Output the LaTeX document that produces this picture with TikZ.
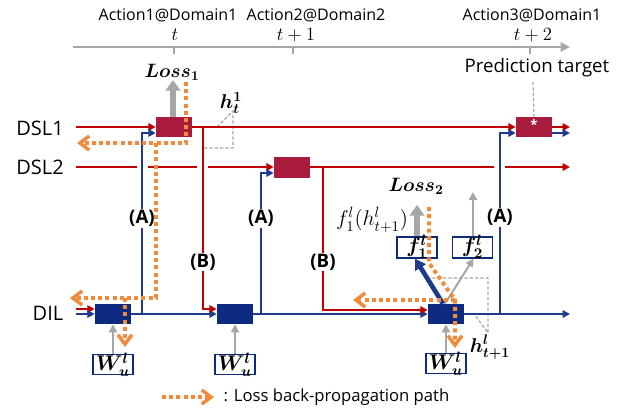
\RequirePackage{fix-cm}
\documentclass[tikz,border=0pt]{standalone}
\usepackage[no-math]{fontspec}
\setsansfont{Open Sans}
\usepackage{amsmath,bm}
\usetikzlibrary{arrows.meta,calc}
\definecolor{dred}{HTML}{C00000}
\definecolor{boxred}{HTML}{A91B3C}
\definecolor{dblue}{HTML}{1E3A8C}
\definecolor{boxblue}{HTML}{0B2A80}
\definecolor{lgray}{HTML}{A6A6A6}
\definecolor{orng}{HTML}{F08A3C}
\tikzset{
  redl/.style={draw=dred, line width=2.1pt},
  bluel/.style={draw=dblue, line width=2.1pt},
  tip/.style={-{Triangle[length=5.5pt,width=5.5pt]}},
  redbox/.style={fill=boxred, minimum width=27pt, minimum height=15pt, inner sep=0pt},
  bluebox/.style={fill=boxblue, minimum width=27pt, minimum height=15pt, inner sep=0pt},
  wbox/.style={draw=boxblue, line width=0.8pt, fill=white, minimum width=30pt, minimum height=15.5pt, inner sep=0pt},
  bp/.style={draw=orng, line width=3pt, dash pattern=on 3pt off 2.4pt, -{Straight Barb[length=7pt,width=10.5pt,line width=2.6pt]}},
  gdash/.style={draw=lgray, line width=0.9pt, dash pattern=on 2.5pt off 1.5pt},
  gthin/.style={draw=lgray, line width=1.5pt, -{Triangle[length=6pt,width=6pt]}},
  gthick/.style={draw=lgray, line width=4.5pt, -{Triangle[length=8pt,width=11pt]}},
  lab/.style={font=\fontsize{14}{16}\selectfont\sffamily\bfseries, fill=white, inner sep=1pt},
  side/.style={font=\fontsize{15}{17}\selectfont\sffamily},
  act/.style={font=\fontsize{12}{14}\selectfont\sffamily},
  mth/.style={font=\fontsize{14}{16}\selectfont, inner sep=0pt},
  bigm/.style={font=\fontsize{16}{18}\selectfont, inner sep=0pt},
}
\begin{document}
\begin{tikzpicture}[x=0.75pt,y=-0.75pt]
\useasboundingbox (0,0) rectangle (629,412);

% time axis
\coordinate (ax0) at (73,47);
\coordinate (ax1) at (570,47);
\draw[draw=lgray, line width=1.5pt, -{Triangle[length=7pt,width=7pt]}] (ax0) -- (ax1);
\foreach \xx/\nm in {174/ta,293/tb,530/tc}{
  \coordinate (\nm) at (\xx,47);
  \draw[draw=lgray, line width=1.2pt] (\nm) -- ++(0,7);
}
\node[mth] at (175,35) {$t$};
\node[mth] at (296,35) {$t+1$};
\node[mth] at (533,35) {$t+2$};
\node[act] (act1) at (168,15) {Action1@Domain1};
\node[act] (act2) at (316,15) {Action2@Domain2};
\node[act] (act3) at (532,15) {Action3@Domain1};
\node[font=\fontsize{14}{16}\selectfont\sffamily] (pt) at (537,68) {Prediction target};

% side labels
\node[side] (lds1) at (40,128) {DSL1};
\node[side] (lds2) at (40,167) {DSL2};
\node[side] (ldil) at (48,313) {DIL};

% boxes
\node[redbox] (r1) at (174,127) {};
\node[redbox, minimum height=15.75pt] (r2) at (292,167) {};
\node[redbox] (r4) at (534,127) {};
\node[text=white, font=\sffamily\bfseries, inner sep=0pt] at ($(r4.center)+(0,-3)$) {*};
\node[bluebox] (b1) at (113,314) {};
\node[bluebox] (b2) at (235,314) {};
\node[bluebox] (b3) at (446,314) {};
\node[wbox] (w1) at (113,364.5) {};
\node[wbox] (w2) at (235,364.5) {};
\node[wbox] (w3) at (446,363.5) {};
\node[bigm] at (w1.center) {$\bm{W_u^l}$};
\node[bigm] at (w2.center) {$\bm{W_u^l}$};
\node[bigm] at (w3.center) {$\bm{W_u^l}$};
\node[wbox, minimum height=15.75pt] (f1) at (417,247.5) {};
\node[wbox, minimum height=15.75pt] (f2) at (472.5,247.5) {};
\node[bigm] at ($(f1.center)+(0,-1)$) {$\bm{f_1^l}$};
\node[bigm] at ($(f2.center)+(0,-1)$) {$\bm{f_2^l}$};

% dashed gray annotations (under lines)
\coordinate (ha) at (217,127);
\coordinate (hb) at (233,111);
\coordinate (hc) at (233,148);
\coordinate (hd) at (203,148);
\draw[gdash] (ha) -- (hb) -- (hc) -- (hd);
\coordinate (ka) at (427,278);
\coordinate (kb) at (488,278);
\coordinate (kc) at (488,333);
\coordinate (kd) at (474,314);
\draw[gdash] (ka) -- (kb) -- (kc) -- (kd);
\draw[gdash] ($(pt.south)+(-4,0)$) -- (r4.north);

% DSL1
\coordinate (s1) at (76,127);
\coordinate (e1) at (570,127);
\coordinate (e1b) at (570,133);
\draw[redl,tip] (s1) -- (r1.west);
\draw[redl,tip] (r1.east) -- (r4.west);
\draw[redl,tip] (r4.east) -- (e1);
\draw[bluel,tip] ($(r4.east)+(0,6)$) -- (e1b);

% DSL2
\coordinate (s2) at (76,167);
\coordinate (e2) at (570,167);
\draw[redl] (s2) -- (137,167);
\draw[redl] (148,167) -- (197,167);
\draw[redl,tip] (208,167) -- (r2.west);
\draw[redl] (r2.east) -- (494,167);
\draw[redl,tip] (505,167) -- (e2);

% DIL
\coordinate (s3) at (76,314);
\coordinate (s3r) at (76,309);
\coordinate (e3) at (570,314);
\draw[redl,tip] (s3r) -- ($(b1.west)+(0,-5)$);
\draw[bluel,tip] (s3) -- (b1.west);
\draw[bluel,tip] (b1.east) -- (b2.west);
\draw[bluel,tip] (b2.east) -- (b3.west);
\draw[bluel,tip] (b3.east) -- (e3);

% (B) red verticals
\coordinate (jb1) at (203,127);
\coordinate (jb2) at (323,167);
\draw[redl,tip] (jb1) |- ($(b2.west)+(0,-5)$);
\draw[redl,tip] (jb2) |- ($(b3.west)+(0,-4)$);
% (A) blue verticals
\coordinate (ja1) at (142,314);
\coordinate (ja2) at (261,314);
\coordinate (ja3) at (500,314);
\draw[bluel,tip] (ja1) |- ($(r1.west)+(0,6)$);
\draw[bluel,tip] (ja2) |- ($(r2.west)+(0,6)$);
\draw[bluel,tip] (ja3) |- ($(r4.west)+(0,6)$);
\node[lab] at (142,218) {(A)};
\node[lab] at (261,218) {(A)};
\node[lab] at (500,217) {(A)};
\node[lab] at (203,262) {(B)};
\node[lab] at (323,262) {(B)};

% gray inputs
\draw[gthin] (w1.north) -- (b1.south);
\draw[gthin] (w2.north) -- (b2.south);
\draw[gthin] (w3.north) -- (b3.south);

% f branches
\draw[gthin] ($(b3.north)+(-1,0)$) -- ($(f2.south)+(1,0)$);
\draw[draw=dblue, line width=3.5pt, -{Triangle[length=8pt,width=9pt]}] ($(b3.north)+(-3,0)$) -- ($(f1.south)+(-2,0)$);
\coordinate (f2top) at (473,192);
\draw[gthin] ($(f2.north)+(0.5,0)$) -- (f2top);
\coordinate (l2a) at (417,205);
\draw[gthick] (f1.north) -- (l2a);
\coordinate (l1a) at (173,80);
\draw[gthick] ($(r1.north)+(-1,0)$) -- (l1a);

% labels
\node[mth, font=\fontsize{14.5}{16}\selectfont] (loss1) at (172,72) {$\bm{Loss_1}$};
\node[mth, font=\fontsize{14.5}{16}\selectfont] (loss2) at (416,186) {$\bm{Loss_2}$};
\node[mth, font=\fontsize{15}{17}\selectfont] at (231,103) {$\bm{h_t^1}$};
\node[mth, font=\fontsize{15}{17}\selectfont] at (490,347) {$\bm{h_{t+1}^l}$};
\node[mth, font=\fontsize{16}{18}\selectfont] at (372,220) {$f_1^l(h_{t+1}^l)$};

% back-propagation paths
\coordinate (o1a) at (186,82);
\coordinate (o1b) at (77,143);
\coordinate (o2a) at (156,143);
\coordinate (o2b) at (70,298);
\coordinate (o3a) at (125,298);
\coordinate (o3b) at (125,347);
\draw[bp] (o1a) |- (o1b);
\draw[bp] (o2a) |- (o2b);
\draw[bp] (o3a) -- (o3b);
\coordinate (p1) at (429,207);
\coordinate (p2) at (429,263);
\coordinate (p3) at (455,300);
\coordinate (p4) at (455,348);
\coordinate (p5) at (353,300);
\draw[bp] (p1) -- (p2) -- (p3) -- (p4);
\draw[bp] (p3) -- (p5);

% legend
\coordinate (lg0) at (162,397);
\coordinate (lg1) at (214,397);
\draw[bp] (lg0) -- (lg1);
\node[font=\fontsize{12.5}{14}\selectfont\sffamily, anchor=west] (lgt) at (219,397) {: Loss back-propagation path};
\end{tikzpicture}
\end{document}
